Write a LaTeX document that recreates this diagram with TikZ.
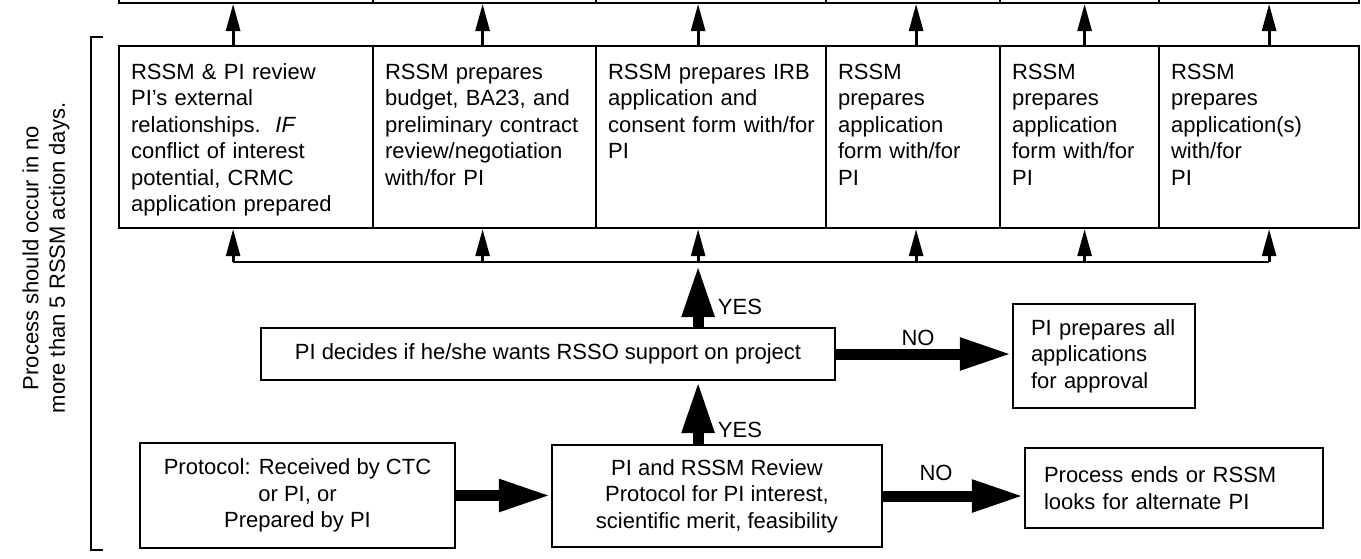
\documentclass[tikz,border=0pt]{standalone}
\usepackage{fontspec}
\setmainfont{Liberation Sans}
\usetikzlibrary{arrows.meta}

\newcommand{\flowfont}{\fontsize{22pt}{26.5pt}\selectfont}

\tikzset{
  box/.style={draw, line width=2.2pt, inner sep=0pt},
  midbox/.style={draw, line width=2.2pt, anchor=north west, align=left,
    inner xsep=12pt, inner ysep=17pt, text height=16pt, text depth=132pt},
  thinarrow/.style={line width=2.8pt, -{Triangle[length=27pt,width=14pt]}},
  bigarrow/.style={line width=11pt, -{Triangle[length=52pt,width=30pt]}},
}

\begin{document}
\begin{tikzpicture}[x=1pt, y=-1pt, every node/.style={font=\flowfont}]
% Page frame (the top row is cut off)
\useasboundingbox (0,0) rectangle (1361,558);
\clip (0,0) rectangle (1361,558);

% Height of the line that feeds the RSSM tasks
\coordinate (bus) at (0,262);

% Row of RSSM tasks, with the row above it
\foreach \n/\xl/\xr/\dx/\txt in {
  1/118/372/-13/{RSSM \& PI review\\PI's external\\relationships.~~\textit{IF}\\conflict of interest\\potential, CRMC\\application prepared},
  2/372/595/-2/{RSSM prepares\\budget, BA23, and\\preliminary contract\\review/negotiation\\with/for PI},
  3/595/825/-13/{RSSM prepares IRB\\application and\\consent~form~with/for\\PI},
  4/825/999/3/{RSSM\\prepares\\application\\form with/for\\PI},
  5/999/1158/5/{RSSM\\prepares\\application\\form with/for\\PI},
  6/1158/1358/10/{RSSM\\prepares\\application(s)\\with/for\\PI}} {
    \pgfmathsetmacro\w{\xr-\xl}
    \pgfmathsetmacro\tw{\xr-\xl-24}
    \node[box, anchor=south west, minimum width=\w pt, minimum height=90pt] (top\n) at (\xl,4) {};
    \node[midbox, text width=\tw pt] (mid\n) at (\xl,45) {\txt};
    \coordinate (a\n) at ([xshift=\dx pt]mid\n.south);
    \coordinate (b\n) at ([xshift=\dx pt]mid\n.north);
    \draw[thinarrow] (b\n) -- (b\n |- top\n.south);
    \draw[thinarrow] (a\n |- bus) -- (a\n);
}
\draw[line width=2.8pt] (a1 |- bus) -- (a6 |- bus);

% Decision boxes
\node[box, minimum width=574pt, minimum height=52pt] (decide) at (548,354) {PI decides if he/she wants RSSO support on project};
\node[box, align=left, text width=146pt, minimum width=182pt, minimum height=104pt] (prep) at (1104,356) {PI~prepares~all\\applications\\for approval};
\node[box, align=center, minimum width=315pt, minimum height=105pt] (proto) at (297.5,495.5) {Protocol: Received by CTC\\or PI, or\\Prepared by PI};
\node[box, align=center, minimum width=330pt, minimum height=102pt] (review) at (717,496) {PI and RSSM Review\\Protocol for PI interest,\\scientific merit, feasibility};
\node[box, align=left, text width=260pt, minimum width=298pt, minimum height=80pt] (ends) at (1174,488) {Process ends or RSSM\\looks for alternate PI};

% Big arrows
\draw[bigarrow] (proto.east) -- (proto.east -| review.west);
\draw[bigarrow] (review.north -| a3) -- (decide.south -| a3);
\draw[bigarrow] (decide.north -| a3) -- ([yshift=-3pt]a3 |- bus);
\draw[bigarrow] (decide.east) -- (decide.east -| prep.west);
\draw[bigarrow] (review.east) -- (review.east -| ends.west);

% Answers
\node (yes1) at (740,307) {YES};
\node (yes2) at (740,430) {YES};
\node (no1) at (918,338) {NO};
\node (no2) at (936,473) {NO};

% Bracket and note on the left
\coordinate (brT) at (91,37);
\coordinate (brB) at (91,550);
\draw[line width=2.5pt] ([xshift=12pt]brT) -- (brT) -- (brB) -- ([xshift=12pt]brB);
\node[rotate=90, align=center] (note) at (46,258) {Process should occur in no\\more than 5 RSSM action days.};
\end{tikzpicture}
\end{document}
